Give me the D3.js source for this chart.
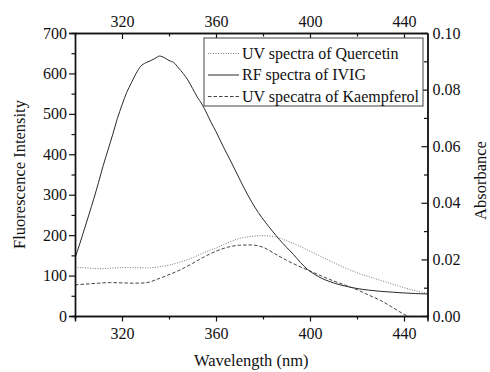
<!DOCTYPE html>
<html>
<head>
<meta charset="utf-8">
<script src="https://cdn.jsdelivr.net/npm/d3@7"></script>
<style>
  body { margin: 0; background: #fff; }
</style>
</head>
<body>
<svg id="chart"></svg>
<script>
// RF spectrum of IVIG (fluorescence intensity, left axis)
const ivigWave = [300, 302, 304, 306, 308, 310, 312, 314, 316, 318, 320, 322, 324, 326, 328, 330, 332, 334, 336, 338,
  340, 342, 344, 346, 348, 350, 352, 354, 356, 358, 360, 363, 366, 369, 372, 375, 378, 381, 384, 387,
  390, 393, 396, 399, 402, 405, 408, 411, 415, 420, 425, 430, 435, 440, 445, 450];
const ivigValues = [143, 178, 215, 252, 290, 330, 372, 410, 448, 488, 522, 553, 577, 600, 618, 626, 631, 637, 643, 639,
  632, 627, 614, 600, 584, 563, 542, 524, 502, 478, 456, 420, 386, 351, 316, 284, 256, 232, 210, 189,
  170, 152, 132, 115, 103, 93, 86, 80, 74, 68, 64, 61, 59, 57, 55.5, 54.5];

// UV spectra (absorbance, right axis)
const uvWave = [300, 305, 310, 315, 320, 325, 330, 335, 340, 345, 350, 355, 360, 365, 370, 375, 380, 385, 390, 395,
  400, 405, 410, 415, 420, 425, 430, 435, 440, 445, 450];
const quercetinValues = [0.0171, 0.0170, 0.0167, 0.0169, 0.0171, 0.0171, 0.0170, 0.0173, 0.0180, 0.0191, 0.0206,
  0.0224, 0.0240, 0.0259, 0.0274, 0.0281, 0.0284, 0.0280, 0.0266, 0.0249, 0.0229, 0.0209, 0.0189, 0.0170,
  0.0153, 0.0139, 0.0126, 0.0113, 0.0100, 0.0089, 0.0080];
const kaempferolValues = [0.0110, 0.0113, 0.0116, 0.0118, 0.0117, 0.0116, 0.0117, 0.0130, 0.0146, 0.0164, 0.0186,
  0.0209, 0.0229, 0.0243, 0.0250, 0.0251, 0.0243, 0.0220, 0.0197, 0.0177, 0.0159, 0.0141, 0.0124, 0.0109,
  0.0093, 0.0074, 0.0055, 0.0031, 0.0006, -0.0014, -0.0030];

const xTicks = [320, 360, 400, 440];
const xMinor = [300, 340, 380, 420];
const yLeftTicks = [0, 100, 200, 300, 400, 500, 600, 700];
const yLeftMinor = [50, 150, 250, 350, 450, 550, 650];
const yRightTicks = [0, 0.02, 0.04, 0.06, 0.08, 0.10];
const yRightMinor = [0.01, 0.03, 0.05, 0.07, 0.09];
const legendLabels = ["UV spectra of Quercetin", "RF spectra of IVIG", "UV specatra of Kaempferol"];

const width = 490, height = 372;
const margin = { top: 33, right: 62.5, bottom: 56, left: 75 };
const serif = "'Liberation Serif', 'Times New Roman', serif";

const svg = d3.select("#chart").attr("width", width).attr("height", height);

const x = d3.scaleLinear().domain([300, 450]).range([margin.left, width - margin.right]);
const yL = d3.scaleLinear().domain([0, 700]).range([height - margin.bottom, margin.top]);
const yR = d3.scaleLinear().domain([0, 0.10]).range([height - margin.bottom, margin.top]);

svg.append("defs").append("clipPath").attr("id", "plotclip")
  .append("rect")
  .attr("x", margin.left).attr("y", margin.top)
  .attr("width", width - margin.left - margin.right)
  .attr("height", height - margin.top - margin.bottom);

const plot = svg.append("g").attr("clip-path", "url(#plotclip)");

const lineL = d3.line().x(d => x(d[0])).y(d => yL(d[1])).curve(d3.curveMonotoneX);
const lineR = d3.line().x(d => x(d[0])).y(d => yR(d[1])).curve(d3.curveMonotoneX);

plot.append("path")
  .datum(uvWave.map((w, i) => [w, quercetinValues[i]]))
  .attr("d", lineR).attr("fill", "none")
  .attr("stroke", "#777").attr("stroke-width", 1).attr("stroke-dasharray", "1,1.5");

plot.append("path")
  .datum(uvWave.map((w, i) => [w, kaempferolValues[i]]))
  .attr("d", lineR).attr("fill", "none")
  .attr("stroke", "#444").attr("stroke-width", 1).attr("stroke-dasharray", "3.5,2");

plot.append("path")
  .datum(ivigWave.map((w, i) => [w, ivigValues[i]]))
  .attr("d", lineL).attr("fill", "none")
  .attr("stroke", "#2a2a2a").attr("stroke-width", 1);

// axes
function styleAxis(g) {
  g.attr("font-family", null).attr("font-size", null);
  g.select(".domain").attr("stroke", "#111").attr("stroke-width", 1.4);
  g.selectAll(".tick line").attr("stroke", "#111").attr("stroke-width", 1.2);
  g.selectAll(".tick text")
    .style("font-family", serif).style("font-size", "16px").attr("fill", "#111");
}

const bottom = height - margin.bottom;
const right = width - margin.right;

// bottom (outward ticks)
svg.append("g").attr("transform", `translate(0,${bottom})`)
  .call(d3.axisBottom(x).tickValues(xMinor).tickSize(3.5).tickFormat(""))
  .call(styleAxis);
svg.append("g").attr("transform", `translate(0,${bottom})`)
  .call(d3.axisBottom(x).tickValues(xTicks).tickSize(5.5).tickPadding(6).tickFormat(d3.format("d")))
  .call(styleAxis);

// top (inward ticks)
svg.append("g").attr("transform", `translate(0,${margin.top})`)
  .call(d3.axisTop(x).tickValues(xMinor).tickSizeInner(-3.5).tickSizeOuter(0).tickFormat(""))
  .call(styleAxis);
svg.append("g").attr("transform", `translate(0,${margin.top})`)
  .call(d3.axisTop(x).tickValues(xTicks).tickSizeInner(-6).tickSizeOuter(0).tickPadding(6).tickFormat(d3.format("d")))
  .call(styleAxis);

// left (outward ticks)
svg.append("g").attr("transform", `translate(${margin.left},0)`)
  .call(d3.axisLeft(yL).tickValues(yLeftMinor).tickSize(3.5).tickFormat(""))
  .call(styleAxis);
svg.append("g").attr("transform", `translate(${margin.left},0)`)
  .call(d3.axisLeft(yL).tickValues(yLeftTicks).tickSize(6).tickPadding(2).tickFormat(d3.format("d")))
  .call(styleAxis);

// right (inward ticks)
svg.append("g").attr("transform", `translate(${right},0)`)
  .call(d3.axisRight(yR).tickValues(yRightMinor).tickSizeInner(-3.5).tickSizeOuter(0).tickFormat(""))
  .call(styleAxis);
svg.append("g").attr("transform", `translate(${right},0)`)
  .call(d3.axisRight(yR).tickValues(yRightTicks).tickSizeInner(-6).tickSizeOuter(0).tickPadding(5).tickFormat(d3.format(".2f")))
  .call(styleAxis);

// axis titles
function title(sel) {
  return sel.attr("text-anchor", "middle").style("font-family", serif)
    .style("font-size", "16.5px").attr("fill", "#111");
}

svg.append("text")
  .attr("x", (margin.left + right) / 2).attr("y", 366)
  .call(title)
  .text("Wavelength (nm)");

svg.append("text")
  .attr("transform", `translate(25,${(margin.top + bottom) / 2}) rotate(-90)`)
  .call(title)
  .text("Fluorescence Intensity");

svg.append("text")
  .attr("transform", `translate(486,${(margin.top + bottom) / 2 + 6}) rotate(-90)`)
  .call(title)
  .text("Absorbance");

// legend
const legend = svg.append("g");
legend.append("rect")
  .attr("x", 204).attr("y", 38).attr("width", 219).attr("height", 68)
  .attr("fill", "#fff").attr("stroke", "#444").attr("stroke-width", 1);

const legendStyles = [
  { stroke: "#777", dash: "1,1.5" },
  { stroke: "#2a2a2a", dash: null },
  { stroke: "#444", dash: "3.5,2" }
];
legendLabels.forEach((label, i) => {
  const yb = 58.5 + i * 21.5;
  legend.append("line")
    .attr("x1", 208).attr("x2", 239)
    .attr("y1", yb - 5).attr("y2", yb - 5)
    .attr("stroke", legendStyles[i].stroke).attr("stroke-width", 1)
    .attr("stroke-dasharray", legendStyles[i].dash);
  legend.append("text")
    .attr("x", 242).attr("y", yb)
    .style("font-family", serif).style("font-size", "16px").attr("fill", "#111")
    .text(label);
});
</script>
</body>
</html>
